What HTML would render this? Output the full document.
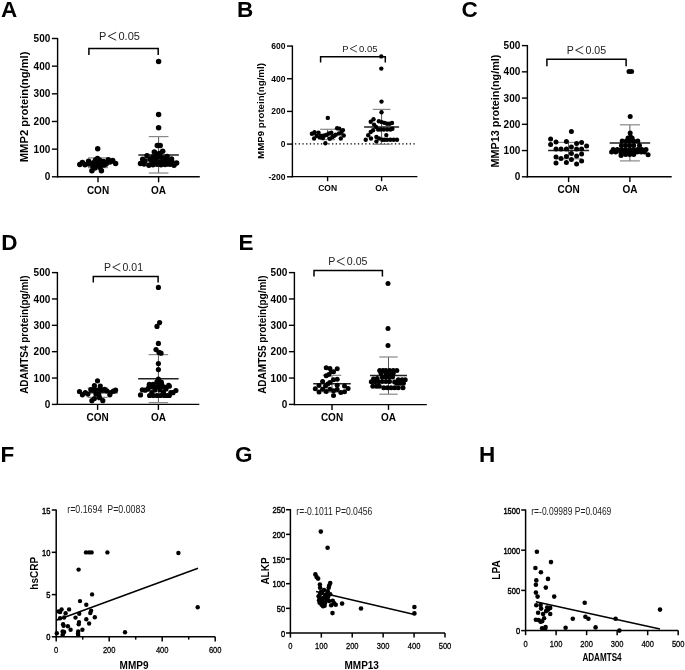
<!DOCTYPE html>
<html><head><meta charset="utf-8"><style>
html,body{margin:0;padding:0;background:#fff;}
svg{display:block;font-family:"Liberation Sans", sans-serif;will-change:transform;}
</style></head><body>
<svg width="685" height="670" viewBox="0 0 685 670">
<rect width="685" height="670" fill="#fff"/>
<line x1="57.60" y1="37.90" x2="57.60" y2="177.40" stroke="#000" stroke-width="1.4" />
<line x1="51.90" y1="176.80" x2="57.60" y2="176.80" stroke="#000" stroke-width="1.4" />
<text x="50.30" y="180.40" font-size="10" font-weight="bold" text-anchor="end" fill="#000" >0</text>
<line x1="51.90" y1="149.14" x2="57.60" y2="149.14" stroke="#000" stroke-width="1.4" />
<text x="50.30" y="152.74" font-size="10" font-weight="bold" text-anchor="end" fill="#000" >100</text>
<line x1="51.90" y1="121.48" x2="57.60" y2="121.48" stroke="#000" stroke-width="1.4" />
<text x="50.30" y="125.08" font-size="10" font-weight="bold" text-anchor="end" fill="#000" >200</text>
<line x1="51.90" y1="93.82" x2="57.60" y2="93.82" stroke="#000" stroke-width="1.4" />
<text x="50.30" y="97.42" font-size="10" font-weight="bold" text-anchor="end" fill="#000" >300</text>
<line x1="51.90" y1="66.16" x2="57.60" y2="66.16" stroke="#000" stroke-width="1.4" />
<text x="50.30" y="69.76" font-size="10" font-weight="bold" text-anchor="end" fill="#000" >400</text>
<line x1="51.90" y1="38.50" x2="57.60" y2="38.50" stroke="#000" stroke-width="1.4" />
<text x="50.30" y="42.10" font-size="10" font-weight="bold" text-anchor="end" fill="#000" >500</text>
<line x1="57.00" y1="176.80" x2="199.80" y2="176.80" stroke="#000" stroke-width="1.4" />
<line x1="98.00" y1="176.80" x2="98.00" y2="182.30" stroke="#000" stroke-width="1.4" />
<text x="98.00" y="193.60" font-size="10" font-weight="bold" text-anchor="middle" fill="#000" >CON</text>
<line x1="158.60" y1="176.80" x2="158.60" y2="182.30" stroke="#000" stroke-width="1.4" />
<text x="158.60" y="193.60" font-size="10" font-weight="bold" text-anchor="middle" fill="#000" >OA</text>
<text transform="translate(27.80,106.90) rotate(-90)" font-size="11.2" font-weight="bold" text-anchor="middle" fill="#000" >MMP2 protein(ng/ml)</text>
<text transform="translate(1.00,16.90) " font-size="22.5" font-weight="bold">A</text>
<polyline points="88.9,55.1 88.9,48.4 158.2,48.4 158.2,55.1" fill="none" stroke="#000" stroke-width="1.5"/>
<text x="99.12" y="40.00" font-size="11" font-weight="normal" text-anchor="start" fill="#222" >P</text>
<polyline points="116.17,32.30 108.25,36.26 116.17,40.22" fill="none" stroke="#222" stroke-width="0.99"/>
<text x="118.48" y="40.00" font-size="11" font-weight="normal" text-anchor="start" fill="#222" >0.05</text>
<line x1="98.00" y1="157.90" x2="98.00" y2="167.60" stroke="#555" stroke-width="1" />
<line x1="88.00" y1="157.90" x2="108.00" y2="157.90" stroke="#888" stroke-width="1.2" />
<line x1="88.00" y1="167.60" x2="108.00" y2="167.60" stroke="#888" stroke-width="1.2" />
<line x1="158.60" y1="136.60" x2="158.60" y2="173.00" stroke="#555" stroke-width="1" />
<line x1="148.75" y1="136.60" x2="168.45" y2="136.60" stroke="#888" stroke-width="1.2" />
<line x1="148.75" y1="173.00" x2="168.45" y2="173.00" stroke="#888" stroke-width="1.2" />
<line x1="78.00" y1="163.00" x2="118.00" y2="163.00" stroke="#222" stroke-width="1.5" />
<line x1="138.35" y1="155.00" x2="178.85" y2="155.00" stroke="#222" stroke-width="1.5" />
<circle cx="97.70" cy="148.80" r="2.75"/>
<circle cx="91.90" cy="170.70" r="2.75"/>
<circle cx="101.40" cy="170.70" r="2.75"/>
<circle cx="79.80" cy="164.50" r="2.75"/>
<circle cx="82.40" cy="162.60" r="2.75"/>
<circle cx="85.00" cy="164.80" r="2.75"/>
<circle cx="88.60" cy="161.20" r="2.75"/>
<circle cx="91.00" cy="163.50" r="2.75"/>
<circle cx="93.00" cy="166.50" r="2.75"/>
<circle cx="95.50" cy="160.00" r="2.75"/>
<circle cx="97.50" cy="158.50" r="2.75"/>
<circle cx="99.50" cy="160.00" r="2.75"/>
<circle cx="96.00" cy="163.50" r="2.75"/>
<circle cx="98.50" cy="165.50" r="2.75"/>
<circle cx="100.00" cy="167.50" r="2.75"/>
<circle cx="95.00" cy="168.00" r="2.75"/>
<circle cx="102.00" cy="162.00" r="2.75"/>
<circle cx="104.00" cy="165.00" r="2.75"/>
<circle cx="106.10" cy="164.00" r="2.75"/>
<circle cx="108.30" cy="159.70" r="2.75"/>
<circle cx="110.00" cy="162.00" r="2.75"/>
<circle cx="112.70" cy="160.40" r="2.75"/>
<circle cx="115.60" cy="163.40" r="2.75"/>
<circle cx="94.00" cy="162.50" r="2.75"/>
<circle cx="101.00" cy="163.00" r="2.75"/>
<circle cx="103.50" cy="161.50" r="2.75"/>
<circle cx="89.00" cy="164.00" r="2.75"/>
<circle cx="158.60" cy="61.40" r="2.75"/>
<circle cx="158.60" cy="114.40" r="2.75"/>
<circle cx="158.60" cy="127.80" r="2.75"/>
<circle cx="157.30" cy="145.50" r="2.75"/>
<circle cx="160.20" cy="145.50" r="2.75"/>
<circle cx="154.30" cy="152.00" r="2.75"/>
<circle cx="162.70" cy="151.30" r="2.75"/>
<circle cx="147.00" cy="155.70" r="2.75"/>
<circle cx="156.90" cy="153.90" r="2.75"/>
<circle cx="159.80" cy="153.50" r="2.75"/>
<circle cx="167.10" cy="156.40" r="2.75"/>
<circle cx="142.70" cy="159.30" r="2.75"/>
<circle cx="140.50" cy="163.40" r="2.75"/>
<circle cx="148.90" cy="165.20" r="2.75"/>
<circle cx="174.00" cy="165.20" r="2.75"/>
<circle cx="176.60" cy="163.00" r="2.75"/>
<circle cx="171.50" cy="159.00" r="2.75"/>
<circle cx="145.00" cy="161.00" r="2.75"/>
<circle cx="150.00" cy="159.00" r="2.75"/>
<circle cx="153.00" cy="157.00" r="2.75"/>
<circle cx="156.00" cy="158.00" r="2.75"/>
<circle cx="160.00" cy="157.00" r="2.75"/>
<circle cx="163.00" cy="158.00" r="2.75"/>
<circle cx="166.00" cy="160.00" r="2.75"/>
<circle cx="169.00" cy="161.00" r="2.75"/>
<circle cx="152.00" cy="163.00" r="2.75"/>
<circle cx="155.00" cy="162.00" r="2.75"/>
<circle cx="158.00" cy="162.00" r="2.75"/>
<circle cx="161.00" cy="162.00" r="2.75"/>
<circle cx="164.00" cy="163.00" r="2.75"/>
<circle cx="167.00" cy="164.00" r="2.75"/>
<circle cx="144.00" cy="164.00" r="2.75"/>
<circle cx="153.00" cy="164.80" r="2.75"/>
<circle cx="157.00" cy="164.30" r="2.75"/>
<circle cx="161.00" cy="164.80" r="2.75"/>
<circle cx="165.00" cy="164.60" r="2.75"/>
<circle cx="170.00" cy="164.20" r="2.75"/>
<circle cx="151.00" cy="160.00" r="2.75"/>
<circle cx="172.00" cy="162.00" r="2.75"/>
<line x1="292.40" y1="45.50" x2="292.40" y2="177.40" stroke="#000" stroke-width="1.4" />
<line x1="287.00" y1="46.06" x2="292.40" y2="46.06" stroke="#000" stroke-width="1.4" />
<text x="285.40" y="49.12" font-size="8.5" font-weight="bold" text-anchor="end" fill="#000" >600</text>
<line x1="287.00" y1="78.74" x2="292.40" y2="78.74" stroke="#000" stroke-width="1.4" />
<text x="285.40" y="81.80" font-size="8.5" font-weight="bold" text-anchor="end" fill="#000" >400</text>
<line x1="287.00" y1="111.42" x2="292.40" y2="111.42" stroke="#000" stroke-width="1.4" />
<text x="285.40" y="114.48" font-size="8.5" font-weight="bold" text-anchor="end" fill="#000" >200</text>
<line x1="287.00" y1="144.10" x2="292.40" y2="144.10" stroke="#000" stroke-width="1.4" />
<text x="285.40" y="147.16" font-size="8.5" font-weight="bold" text-anchor="end" fill="#000" >0</text>
<line x1="287.00" y1="176.78" x2="292.40" y2="176.78" stroke="#000" stroke-width="1.4" />
<text x="285.40" y="179.84" font-size="8.5" font-weight="bold" text-anchor="end" fill="#000" >-200</text>
<line x1="291.80" y1="176.60" x2="417.40" y2="176.60" stroke="#000" stroke-width="1.4" />
<line x1="327.60" y1="176.60" x2="327.60" y2="181.20" stroke="#000" stroke-width="1.4" />
<text x="327.60" y="191.40" font-size="8.5" font-weight="bold" text-anchor="middle" fill="#000" >CON</text>
<line x1="381.60" y1="176.60" x2="381.60" y2="181.20" stroke="#000" stroke-width="1.4" />
<text x="381.60" y="191.40" font-size="8.5" font-weight="bold" text-anchor="middle" fill="#000" >OA</text>
<text transform="translate(264.00,111.00) rotate(-90)" font-size="9.7" font-weight="bold" text-anchor="middle" fill="#000" >MMP9 protein(ng/ml)</text>
<text transform="translate(237.00,17.00) " font-size="22.5" font-weight="bold">B</text>
<polyline points="320.6,62.4 320.6,56.8 385.3,56.8 385.3,62.4" fill="none" stroke="#000" stroke-width="1.5"/>
<text x="342.24" y="51.90" font-size="9.5" font-weight="normal" text-anchor="start" fill="#222" >P</text>
<polyline points="356.96,45.25 350.12,48.67 356.96,52.09" fill="none" stroke="#222" stroke-width="0.85"/>
<text x="358.96" y="51.90" font-size="9.5" font-weight="normal" text-anchor="start" fill="#222" >0.05</text>
<line x1="295.0" y1="143.9" x2="416" y2="143.9" stroke="#000" stroke-width="1.2" stroke-dasharray="1.3,2.4"/>
<line x1="327.60" y1="129.30" x2="327.60" y2="139.60" stroke="#555" stroke-width="1" />
<line x1="320.10" y1="129.30" x2="335.10" y2="129.30" stroke="#888" stroke-width="1.2" />
<line x1="320.10" y1="139.60" x2="335.10" y2="139.60" stroke="#888" stroke-width="1.2" />
<line x1="381.60" y1="109.40" x2="381.60" y2="144.30" stroke="#555" stroke-width="1" />
<line x1="372.75" y1="109.40" x2="390.45" y2="109.40" stroke="#888" stroke-width="1.2" />
<line x1="372.75" y1="144.30" x2="390.45" y2="144.30" stroke="#888" stroke-width="1.2" />
<line x1="312.60" y1="134.50" x2="342.60" y2="134.50" stroke="#222" stroke-width="1.5" />
<line x1="364.10" y1="126.90" x2="399.10" y2="126.90" stroke="#222" stroke-width="1.5" />
<circle cx="327.80" cy="117.90" r="2.2"/>
<circle cx="325.40" cy="143.20" r="2.2"/>
<circle cx="311.90" cy="133.70" r="2.2"/>
<circle cx="314.50" cy="132.30" r="2.2"/>
<circle cx="314.10" cy="138.50" r="2.2"/>
<circle cx="318.50" cy="132.60" r="2.2"/>
<circle cx="316.70" cy="135.90" r="2.2"/>
<circle cx="319.60" cy="137.40" r="2.2"/>
<circle cx="322.90" cy="138.10" r="2.2"/>
<circle cx="324.70" cy="135.50" r="2.2"/>
<circle cx="326.90" cy="134.80" r="2.2"/>
<circle cx="329.10" cy="133.40" r="2.2"/>
<circle cx="331.30" cy="132.60" r="2.2"/>
<circle cx="329.80" cy="138.80" r="2.2"/>
<circle cx="332.40" cy="137.00" r="2.2"/>
<circle cx="335.70" cy="134.80" r="2.2"/>
<circle cx="337.10" cy="128.20" r="2.2"/>
<circle cx="339.30" cy="128.60" r="2.2"/>
<circle cx="338.90" cy="133.40" r="2.2"/>
<circle cx="343.00" cy="130.10" r="2.2"/>
<circle cx="343.70" cy="135.50" r="2.2"/>
<circle cx="340.80" cy="138.50" r="2.2"/>
<circle cx="341.50" cy="131.90" r="2.2"/>
<circle cx="321.00" cy="136.00" r="2.2"/>
<circle cx="334.00" cy="136.00" r="2.2"/>
<circle cx="381.30" cy="56.40" r="2.2"/>
<circle cx="381.30" cy="68.60" r="2.2"/>
<circle cx="381.50" cy="101.60" r="2.2"/>
<circle cx="381.50" cy="112.20" r="2.2"/>
<circle cx="373.50" cy="119.20" r="2.2"/>
<circle cx="370.70" cy="121.70" r="2.2"/>
<circle cx="378.90" cy="121.30" r="2.2"/>
<circle cx="381.80" cy="122.10" r="2.2"/>
<circle cx="384.60" cy="122.90" r="2.2"/>
<circle cx="387.10" cy="123.70" r="2.2"/>
<circle cx="389.60" cy="123.70" r="2.2"/>
<circle cx="392.00" cy="122.90" r="2.2"/>
<circle cx="374.00" cy="124.60" r="2.2"/>
<circle cx="376.00" cy="127.00" r="2.2"/>
<circle cx="378.10" cy="129.50" r="2.2"/>
<circle cx="380.50" cy="129.50" r="2.2"/>
<circle cx="383.80" cy="129.50" r="2.2"/>
<circle cx="387.10" cy="129.50" r="2.2"/>
<circle cx="390.40" cy="129.50" r="2.2"/>
<circle cx="392.40" cy="128.70" r="2.2"/>
<circle cx="373.10" cy="130.30" r="2.2"/>
<circle cx="370.70" cy="132.00" r="2.2"/>
<circle cx="368.20" cy="135.20" r="2.2"/>
<circle cx="386.30" cy="135.10" r="2.2"/>
<circle cx="365.70" cy="139.70" r="2.2"/>
<circle cx="371.00" cy="138.50" r="2.2"/>
<circle cx="376.40" cy="136.90" r="2.2"/>
<circle cx="379.00" cy="138.50" r="2.2"/>
<circle cx="382.20" cy="139.70" r="2.2"/>
<circle cx="384.60" cy="139.70" r="2.2"/>
<circle cx="387.10" cy="139.70" r="2.2"/>
<circle cx="390.40" cy="139.70" r="2.2"/>
<circle cx="393.70" cy="139.70" r="2.2"/>
<circle cx="397.00" cy="139.70" r="2.2"/>
<circle cx="376.40" cy="141.40" r="2.2"/>
<line x1="527.40" y1="45.00" x2="527.40" y2="177.40" stroke="#000" stroke-width="1.4" />
<line x1="521.90" y1="176.80" x2="527.40" y2="176.80" stroke="#000" stroke-width="1.4" />
<text x="520.30" y="180.40" font-size="10" font-weight="bold" text-anchor="end" fill="#000" >0</text>
<line x1="521.90" y1="150.56" x2="527.40" y2="150.56" stroke="#000" stroke-width="1.4" />
<text x="520.30" y="154.16" font-size="10" font-weight="bold" text-anchor="end" fill="#000" >100</text>
<line x1="521.90" y1="124.32" x2="527.40" y2="124.32" stroke="#000" stroke-width="1.4" />
<text x="520.30" y="127.92" font-size="10" font-weight="bold" text-anchor="end" fill="#000" >200</text>
<line x1="521.90" y1="98.08" x2="527.40" y2="98.08" stroke="#000" stroke-width="1.4" />
<text x="520.30" y="101.68" font-size="10" font-weight="bold" text-anchor="end" fill="#000" >300</text>
<line x1="521.90" y1="71.84" x2="527.40" y2="71.84" stroke="#000" stroke-width="1.4" />
<text x="520.30" y="75.44" font-size="10" font-weight="bold" text-anchor="end" fill="#000" >400</text>
<line x1="521.90" y1="45.60" x2="527.40" y2="45.60" stroke="#000" stroke-width="1.4" />
<text x="520.30" y="49.20" font-size="10" font-weight="bold" text-anchor="end" fill="#000" >500</text>
<line x1="526.80" y1="176.80" x2="671.70" y2="176.80" stroke="#000" stroke-width="1.4" />
<line x1="568.60" y1="176.80" x2="568.60" y2="182.10" stroke="#000" stroke-width="1.4" />
<text x="568.60" y="193.00" font-size="10" font-weight="bold" text-anchor="middle" fill="#000" >CON</text>
<line x1="629.90" y1="176.80" x2="629.90" y2="182.10" stroke="#000" stroke-width="1.4" />
<text x="629.90" y="193.00" font-size="10" font-weight="bold" text-anchor="middle" fill="#000" >OA</text>
<text transform="translate(499.00,111.00) rotate(-90)" font-size="10.8" font-weight="bold" text-anchor="middle" fill="#000" >MMP13 protein(ng/ml)</text>
<text transform="translate(461.40,17.00) " font-size="22.5" font-weight="bold">C</text>
<polyline points="546.9,66.2 546.9,59.2 626.1,59.2 626.1,66.2" fill="none" stroke="#000" stroke-width="1.5"/>
<text x="566.85" y="53.80" font-size="10.6" font-weight="normal" text-anchor="start" fill="#222" >P</text>
<polyline points="583.28,46.38 575.65,50.20 583.28,54.01" fill="none" stroke="#222" stroke-width="0.95"/>
<text x="585.51" y="53.80" font-size="10.6" font-weight="normal" text-anchor="start" fill="#222" >0.05</text>
<line x1="568.60" y1="142.40" x2="568.60" y2="158.80" stroke="#555" stroke-width="1" />
<line x1="556.10" y1="142.40" x2="581.10" y2="142.40" stroke="#888" stroke-width="1.2" />
<line x1="556.10" y1="158.80" x2="581.10" y2="158.80" stroke="#888" stroke-width="1.2" />
<line x1="629.90" y1="124.80" x2="629.90" y2="160.90" stroke="#555" stroke-width="1" />
<line x1="619.90" y1="124.80" x2="639.90" y2="124.80" stroke="#888" stroke-width="1.2" />
<line x1="619.90" y1="160.90" x2="639.90" y2="160.90" stroke="#888" stroke-width="1.2" />
<line x1="548.10" y1="150.60" x2="589.10" y2="150.60" stroke="#222" stroke-width="1.5" />
<line x1="609.65" y1="143.00" x2="650.15" y2="143.00" stroke="#222" stroke-width="1.5" />
<circle cx="571.40" cy="131.40" r="2.5"/>
<circle cx="550.60" cy="139.00" r="2.5"/>
<circle cx="550.60" cy="144.40" r="2.5"/>
<circle cx="556.00" cy="142.00" r="2.5"/>
<circle cx="566.40" cy="141.60" r="2.5"/>
<circle cx="576.60" cy="143.60" r="2.5"/>
<circle cx="581.60" cy="142.40" r="2.5"/>
<circle cx="586.60" cy="146.00" r="2.5"/>
<circle cx="556.00" cy="149.00" r="2.5"/>
<circle cx="561.00" cy="149.00" r="2.5"/>
<circle cx="566.40" cy="149.00" r="2.5"/>
<circle cx="571.40" cy="147.00" r="2.5"/>
<circle cx="576.60" cy="149.00" r="2.5"/>
<circle cx="581.60" cy="149.00" r="2.5"/>
<circle cx="556.00" cy="157.00" r="2.5"/>
<circle cx="561.00" cy="158.40" r="2.5"/>
<circle cx="566.40" cy="156.40" r="2.5"/>
<circle cx="571.40" cy="153.60" r="2.5"/>
<circle cx="576.60" cy="156.00" r="2.5"/>
<circle cx="581.60" cy="154.00" r="2.5"/>
<circle cx="556.00" cy="163.00" r="2.5"/>
<circle cx="566.40" cy="162.40" r="2.5"/>
<circle cx="571.40" cy="159.40" r="2.5"/>
<circle cx="576.60" cy="164.00" r="2.5"/>
<circle cx="581.60" cy="161.00" r="2.5"/>
<circle cx="629.00" cy="71.40" r="2.5"/>
<circle cx="631.60" cy="71.40" r="2.5"/>
<circle cx="630.20" cy="116.60" r="2.5"/>
<circle cx="630.20" cy="133.00" r="2.5"/>
<circle cx="630.50" cy="137.10" r="2.5"/>
<circle cx="628.00" cy="137.90" r="2.5"/>
<circle cx="632.10" cy="137.90" r="2.5"/>
<circle cx="622.20" cy="141.00" r="2.5"/>
<circle cx="626.30" cy="141.00" r="2.5"/>
<circle cx="629.60" cy="141.00" r="2.5"/>
<circle cx="633.70" cy="141.00" r="2.5"/>
<circle cx="637.80" cy="141.00" r="2.5"/>
<circle cx="621.40" cy="145.50" r="2.5"/>
<circle cx="625.50" cy="145.50" r="2.5"/>
<circle cx="629.60" cy="145.50" r="2.5"/>
<circle cx="633.70" cy="145.50" r="2.5"/>
<circle cx="639.50" cy="145.50" r="2.5"/>
<circle cx="613.20" cy="149.50" r="2.5"/>
<circle cx="617.30" cy="149.50" r="2.5"/>
<circle cx="621.40" cy="149.50" r="2.5"/>
<circle cx="625.50" cy="149.50" r="2.5"/>
<circle cx="629.60" cy="149.50" r="2.5"/>
<circle cx="633.70" cy="149.50" r="2.5"/>
<circle cx="637.80" cy="149.50" r="2.5"/>
<circle cx="641.90" cy="149.50" r="2.5"/>
<circle cx="646.00" cy="149.50" r="2.5"/>
<circle cx="611.60" cy="152.00" r="2.5"/>
<circle cx="615.70" cy="152.00" r="2.5"/>
<circle cx="620.60" cy="152.00" r="2.5"/>
<circle cx="624.70" cy="152.00" r="2.5"/>
<circle cx="628.80" cy="152.00" r="2.5"/>
<circle cx="632.90" cy="152.00" r="2.5"/>
<circle cx="637.00" cy="152.00" r="2.5"/>
<circle cx="641.10" cy="152.00" r="2.5"/>
<circle cx="644.40" cy="152.00" r="2.5"/>
<circle cx="621.00" cy="155.60" r="2.5"/>
<circle cx="648.10" cy="154.70" r="2.5"/>
<circle cx="625.50" cy="154.50" r="2.5"/>
<circle cx="629.60" cy="154.50" r="2.5"/>
<circle cx="633.70" cy="154.50" r="2.5"/>
<line x1="57.40" y1="272.00" x2="57.40" y2="405.00" stroke="#000" stroke-width="1.4" />
<line x1="51.90" y1="404.40" x2="57.40" y2="404.40" stroke="#000" stroke-width="1.4" />
<text x="50.30" y="408.00" font-size="10" font-weight="bold" text-anchor="end" fill="#000" >0</text>
<line x1="51.90" y1="378.04" x2="57.40" y2="378.04" stroke="#000" stroke-width="1.4" />
<text x="50.30" y="381.64" font-size="10" font-weight="bold" text-anchor="end" fill="#000" >100</text>
<line x1="51.90" y1="351.68" x2="57.40" y2="351.68" stroke="#000" stroke-width="1.4" />
<text x="50.30" y="355.28" font-size="10" font-weight="bold" text-anchor="end" fill="#000" >200</text>
<line x1="51.90" y1="325.32" x2="57.40" y2="325.32" stroke="#000" stroke-width="1.4" />
<text x="50.30" y="328.92" font-size="10" font-weight="bold" text-anchor="end" fill="#000" >300</text>
<line x1="51.90" y1="298.96" x2="57.40" y2="298.96" stroke="#000" stroke-width="1.4" />
<text x="50.30" y="302.56" font-size="10" font-weight="bold" text-anchor="end" fill="#000" >400</text>
<line x1="51.90" y1="272.60" x2="57.40" y2="272.60" stroke="#000" stroke-width="1.4" />
<text x="50.30" y="276.20" font-size="10" font-weight="bold" text-anchor="end" fill="#000" >500</text>
<line x1="56.80" y1="404.40" x2="199.30" y2="404.40" stroke="#000" stroke-width="1.4" />
<line x1="97.60" y1="404.40" x2="97.60" y2="409.90" stroke="#000" stroke-width="1.4" />
<text x="97.60" y="421.00" font-size="10" font-weight="bold" text-anchor="middle" fill="#000" >CON</text>
<line x1="158.40" y1="404.40" x2="158.40" y2="409.90" stroke="#000" stroke-width="1.4" />
<text x="158.40" y="421.00" font-size="10" font-weight="bold" text-anchor="middle" fill="#000" >OA</text>
<text transform="translate(28.40,334.70) rotate(-90)" font-size="10" font-weight="bold" text-anchor="middle" fill="#000" >ADAMTS4 protein(pg/ml)</text>
<text transform="translate(1.30,249.80) " font-size="22.5" font-weight="bold">D</text>
<polyline points="93.3,282.4 93.3,276.4 158.1,276.4 158.1,282.4" fill="none" stroke="#000" stroke-width="1.5"/>
<text x="104.06" y="270.80" font-size="10.5" font-weight="normal" text-anchor="start" fill="#222" >P</text>
<polyline points="120.34,263.45 112.78,267.23 120.34,271.01" fill="none" stroke="#222" stroke-width="0.94"/>
<text x="122.54" y="270.80" font-size="10.5" font-weight="normal" text-anchor="start" fill="#222" >0.01</text>
<line x1="97.60" y1="388.10" x2="97.60" y2="397.40" stroke="#555" stroke-width="1" />
<line x1="87.60" y1="388.10" x2="107.60" y2="388.10" stroke="#888" stroke-width="1.2" />
<line x1="87.60" y1="397.40" x2="107.60" y2="397.40" stroke="#888" stroke-width="1.2" />
<line x1="158.40" y1="354.60" x2="158.40" y2="402.60" stroke="#555" stroke-width="1" />
<line x1="148.65" y1="354.60" x2="168.15" y2="354.60" stroke="#888" stroke-width="1.2" />
<line x1="148.65" y1="402.60" x2="168.15" y2="402.60" stroke="#888" stroke-width="1.2" />
<line x1="77.60" y1="392.70" x2="117.60" y2="392.70" stroke="#222" stroke-width="1.5" />
<line x1="138.15" y1="378.70" x2="178.65" y2="378.70" stroke="#222" stroke-width="1.5" />
<circle cx="97.50" cy="380.80" r="2.6"/>
<circle cx="79.50" cy="391.50" r="2.6"/>
<circle cx="82.40" cy="394.80" r="2.6"/>
<circle cx="85.30" cy="392.60" r="2.6"/>
<circle cx="87.90" cy="394.10" r="2.6"/>
<circle cx="90.80" cy="389.70" r="2.6"/>
<circle cx="94.40" cy="385.70" r="2.6"/>
<circle cx="100.30" cy="386.10" r="2.6"/>
<circle cx="93.00" cy="390.00" r="2.6"/>
<circle cx="95.90" cy="390.00" r="2.6"/>
<circle cx="98.80" cy="390.00" r="2.6"/>
<circle cx="101.70" cy="390.00" r="2.6"/>
<circle cx="104.70" cy="389.30" r="2.6"/>
<circle cx="106.80" cy="390.80" r="2.6"/>
<circle cx="109.80" cy="394.80" r="2.6"/>
<circle cx="110.50" cy="392.60" r="2.6"/>
<circle cx="113.40" cy="391.20" r="2.6"/>
<circle cx="115.60" cy="390.10" r="2.6"/>
<circle cx="95.90" cy="394.10" r="2.6"/>
<circle cx="98.80" cy="394.80" r="2.6"/>
<circle cx="91.90" cy="400.70" r="2.6"/>
<circle cx="102.80" cy="400.70" r="2.6"/>
<circle cx="94.40" cy="398.50" r="2.6"/>
<circle cx="99.50" cy="397.70" r="2.6"/>
<circle cx="97.00" cy="392.00" r="2.6"/>
<circle cx="158.40" cy="287.40" r="2.6"/>
<circle cx="159.60" cy="322.60" r="2.6"/>
<circle cx="157.00" cy="326.40" r="2.6"/>
<circle cx="158.40" cy="343.40" r="2.6"/>
<circle cx="156.00" cy="349.60" r="2.6"/>
<circle cx="159.00" cy="352.40" r="2.6"/>
<circle cx="161.00" cy="353.20" r="2.6"/>
<circle cx="158.40" cy="363.60" r="2.6"/>
<circle cx="158.40" cy="369.60" r="2.6"/>
<circle cx="158.40" cy="379.20" r="2.6"/>
<circle cx="156.90" cy="381.80" r="2.6"/>
<circle cx="161.30" cy="382.20" r="2.6"/>
<circle cx="149.30" cy="384.30" r="2.6"/>
<circle cx="153.00" cy="384.30" r="2.6"/>
<circle cx="158.10" cy="384.30" r="2.6"/>
<circle cx="161.70" cy="384.30" r="2.6"/>
<circle cx="168.60" cy="385.40" r="2.6"/>
<circle cx="169.30" cy="386.20" r="2.6"/>
<circle cx="148.90" cy="387.00" r="2.6"/>
<circle cx="152.50" cy="387.00" r="2.6"/>
<circle cx="156.20" cy="387.00" r="2.6"/>
<circle cx="160.50" cy="387.00" r="2.6"/>
<circle cx="164.20" cy="387.00" r="2.6"/>
<circle cx="142.30" cy="389.80" r="2.6"/>
<circle cx="145.20" cy="390.20" r="2.6"/>
<circle cx="148.10" cy="389.10" r="2.6"/>
<circle cx="175.90" cy="390.50" r="2.6"/>
<circle cx="173.00" cy="392.70" r="2.6"/>
<circle cx="170.80" cy="392.70" r="2.6"/>
<circle cx="140.50" cy="394.90" r="2.6"/>
<circle cx="149.60" cy="395.50" r="2.6"/>
<circle cx="153.20" cy="395.50" r="2.6"/>
<circle cx="156.90" cy="395.50" r="2.6"/>
<circle cx="160.50" cy="395.50" r="2.6"/>
<circle cx="164.20" cy="395.50" r="2.6"/>
<circle cx="167.10" cy="395.50" r="2.6"/>
<circle cx="169.30" cy="395.50" r="2.6"/>
<circle cx="151.80" cy="392.70" r="2.6"/>
<circle cx="163.50" cy="392.00" r="2.6"/>
<circle cx="155.00" cy="390.00" r="2.6"/>
<circle cx="160.00" cy="390.00" r="2.6"/>
<circle cx="166.00" cy="389.00" r="2.6"/>
<line x1="294.40" y1="272.00" x2="294.40" y2="405.20" stroke="#000" stroke-width="1.4" />
<line x1="288.90" y1="404.40" x2="294.40" y2="404.40" stroke="#000" stroke-width="1.4" />
<text x="287.30" y="408.00" font-size="10" font-weight="bold" text-anchor="end" fill="#000" >0</text>
<line x1="288.90" y1="378.04" x2="294.40" y2="378.04" stroke="#000" stroke-width="1.4" />
<text x="287.30" y="381.64" font-size="10" font-weight="bold" text-anchor="end" fill="#000" >100</text>
<line x1="288.90" y1="351.68" x2="294.40" y2="351.68" stroke="#000" stroke-width="1.4" />
<text x="287.30" y="355.28" font-size="10" font-weight="bold" text-anchor="end" fill="#000" >200</text>
<line x1="288.90" y1="325.32" x2="294.40" y2="325.32" stroke="#000" stroke-width="1.4" />
<text x="287.30" y="328.92" font-size="10" font-weight="bold" text-anchor="end" fill="#000" >300</text>
<line x1="288.90" y1="298.96" x2="294.40" y2="298.96" stroke="#000" stroke-width="1.4" />
<text x="287.30" y="302.56" font-size="10" font-weight="bold" text-anchor="end" fill="#000" >400</text>
<line x1="288.90" y1="272.60" x2="294.40" y2="272.60" stroke="#000" stroke-width="1.4" />
<text x="287.30" y="276.20" font-size="10" font-weight="bold" text-anchor="end" fill="#000" >500</text>
<line x1="293.80" y1="404.60" x2="426.80" y2="404.60" stroke="#000" stroke-width="1.4" />
<line x1="332.00" y1="404.60" x2="332.00" y2="409.90" stroke="#000" stroke-width="1.4" />
<text x="332.00" y="421.00" font-size="10" font-weight="bold" text-anchor="middle" fill="#000" >CON</text>
<line x1="388.50" y1="404.60" x2="388.50" y2="409.90" stroke="#000" stroke-width="1.4" />
<text x="388.50" y="421.00" font-size="10" font-weight="bold" text-anchor="middle" fill="#000" >OA</text>
<text transform="translate(266.10,334.70) rotate(-90)" font-size="10" font-weight="bold" text-anchor="middle" fill="#000" >ADAMTS5 protein(pg/ml)</text>
<text transform="translate(238.40,249.80) " font-size="22.5" font-weight="bold">E</text>
<polyline points="314.0,276.4 314.0,270.4 382.4,270.4 382.4,276.4" fill="none" stroke="#000" stroke-width="1.5"/>
<text x="328.15" y="265.00" font-size="10.6" font-weight="normal" text-anchor="start" fill="#222" >P</text>
<polyline points="344.58,257.58 336.95,261.40 344.58,265.21" fill="none" stroke="#222" stroke-width="0.95"/>
<text x="346.81" y="265.00" font-size="10.6" font-weight="normal" text-anchor="start" fill="#222" >0.05</text>
<line x1="332.00" y1="375.30" x2="332.00" y2="392.10" stroke="#555" stroke-width="1" />
<line x1="322.70" y1="375.30" x2="341.30" y2="375.30" stroke="#888" stroke-width="1.2" />
<line x1="322.70" y1="392.10" x2="341.30" y2="392.10" stroke="#888" stroke-width="1.2" />
<line x1="388.50" y1="357.00" x2="388.50" y2="394.20" stroke="#555" stroke-width="1" />
<line x1="379.35" y1="357.00" x2="397.65" y2="357.00" stroke="#888" stroke-width="1.2" />
<line x1="379.35" y1="394.20" x2="397.65" y2="394.20" stroke="#888" stroke-width="1.2" />
<line x1="313.20" y1="383.70" x2="350.80" y2="383.70" stroke="#222" stroke-width="1.5" />
<line x1="370.00" y1="375.40" x2="407.00" y2="375.40" stroke="#222" stroke-width="1.5" />
<circle cx="326.20" cy="367.70" r="2.5"/>
<circle cx="329.90" cy="368.40" r="2.5"/>
<circle cx="337.20" cy="368.80" r="2.5"/>
<circle cx="333.50" cy="371.70" r="2.5"/>
<circle cx="331.40" cy="371.70" r="2.5"/>
<circle cx="326.20" cy="375.70" r="2.5"/>
<circle cx="328.80" cy="374.60" r="2.5"/>
<circle cx="337.20" cy="379.30" r="2.5"/>
<circle cx="333.50" cy="379.70" r="2.5"/>
<circle cx="322.60" cy="381.50" r="2.5"/>
<circle cx="329.90" cy="382.60" r="2.5"/>
<circle cx="327.70" cy="384.10" r="2.5"/>
<circle cx="319.00" cy="385.50" r="2.5"/>
<circle cx="325.50" cy="385.90" r="2.5"/>
<circle cx="337.20" cy="385.20" r="2.5"/>
<circle cx="344.50" cy="385.90" r="2.5"/>
<circle cx="315.30" cy="388.80" r="2.5"/>
<circle cx="319.00" cy="392.10" r="2.5"/>
<circle cx="322.60" cy="389.20" r="2.5"/>
<circle cx="326.20" cy="391.40" r="2.5"/>
<circle cx="329.90" cy="389.20" r="2.5"/>
<circle cx="333.50" cy="390.70" r="2.5"/>
<circle cx="337.20" cy="389.60" r="2.5"/>
<circle cx="340.80" cy="392.50" r="2.5"/>
<circle cx="344.50" cy="391.80" r="2.5"/>
<circle cx="348.10" cy="388.50" r="2.5"/>
<circle cx="333.50" cy="395.40" r="2.5"/>
<circle cx="388.00" cy="283.60" r="2.5"/>
<circle cx="388.00" cy="328.60" r="2.5"/>
<circle cx="388.00" cy="345.40" r="2.5"/>
<circle cx="379.70" cy="370.50" r="2.5"/>
<circle cx="383.00" cy="370.50" r="2.5"/>
<circle cx="385.90" cy="370.50" r="2.5"/>
<circle cx="389.50" cy="370.50" r="2.5"/>
<circle cx="393.20" cy="370.50" r="2.5"/>
<circle cx="396.80" cy="370.50" r="2.5"/>
<circle cx="381.00" cy="373.30" r="2.5"/>
<circle cx="385.90" cy="373.30" r="2.5"/>
<circle cx="389.50" cy="373.30" r="2.5"/>
<circle cx="393.20" cy="373.30" r="2.5"/>
<circle cx="373.50" cy="379.10" r="2.5"/>
<circle cx="377.10" cy="378.40" r="2.5"/>
<circle cx="382.20" cy="377.00" r="2.5"/>
<circle cx="385.90" cy="377.00" r="2.5"/>
<circle cx="389.50" cy="377.00" r="2.5"/>
<circle cx="392.50" cy="377.00" r="2.5"/>
<circle cx="398.30" cy="379.80" r="2.5"/>
<circle cx="402.00" cy="379.80" r="2.5"/>
<circle cx="405.20" cy="379.80" r="2.5"/>
<circle cx="371.30" cy="381.80" r="2.5"/>
<circle cx="375.00" cy="381.80" r="2.5"/>
<circle cx="378.60" cy="381.80" r="2.5"/>
<circle cx="382.20" cy="381.50" r="2.5"/>
<circle cx="385.90" cy="381.50" r="2.5"/>
<circle cx="389.50" cy="381.50" r="2.5"/>
<circle cx="394.60" cy="382.00" r="2.5"/>
<circle cx="396.80" cy="383.30" r="2.5"/>
<circle cx="400.50" cy="383.30" r="2.5"/>
<circle cx="403.40" cy="383.30" r="2.5"/>
<circle cx="372.80" cy="386.30" r="2.5"/>
<circle cx="376.40" cy="386.30" r="2.5"/>
<circle cx="379.30" cy="386.30" r="2.5"/>
<circle cx="383.70" cy="387.70" r="2.5"/>
<circle cx="387.40" cy="387.70" r="2.5"/>
<circle cx="391.00" cy="387.70" r="2.5"/>
<circle cx="394.60" cy="387.70" r="2.5"/>
<circle cx="398.30" cy="387.70" r="2.5"/>
<circle cx="403.00" cy="387.70" r="2.5"/>
<line x1="56.20" y1="509.40" x2="56.20" y2="637.40" stroke="#000" stroke-width="1.5" />
<line x1="51.80" y1="636.80" x2="56.20" y2="636.80" stroke="#000" stroke-width="1.5" />
<text x="50.40" y="640.30" font-size="9.8" font-weight="normal" text-anchor="end" fill="#000" textLength="4.20" lengthAdjust="spacingAndGlyphs" stroke="#000" stroke-width="0.45">0</text>
<line x1="51.80" y1="594.60" x2="56.20" y2="594.60" stroke="#000" stroke-width="1.5" />
<text x="50.40" y="598.10" font-size="9.8" font-weight="normal" text-anchor="end" fill="#000" textLength="4.20" lengthAdjust="spacingAndGlyphs" stroke="#000" stroke-width="0.45">5</text>
<line x1="51.80" y1="552.30" x2="56.20" y2="552.30" stroke="#000" stroke-width="1.5" />
<text x="50.40" y="555.80" font-size="9.8" font-weight="normal" text-anchor="end" fill="#000" textLength="8.40" lengthAdjust="spacingAndGlyphs" stroke="#000" stroke-width="0.45">10</text>
<line x1="51.80" y1="510.00" x2="56.20" y2="510.00" stroke="#000" stroke-width="1.5" />
<text x="50.40" y="513.50" font-size="9.8" font-weight="normal" text-anchor="end" fill="#000" textLength="8.40" lengthAdjust="spacingAndGlyphs" stroke="#000" stroke-width="0.45">15</text>
<line x1="55.60" y1="636.80" x2="215.20" y2="636.80" stroke="#000" stroke-width="1.5" />
<line x1="56.20" y1="636.80" x2="56.20" y2="641.40" stroke="#000" stroke-width="1.5" />
<text x="56.20" y="653.00" font-size="9.8" font-weight="normal" text-anchor="middle" fill="#000" textLength="4.20" lengthAdjust="spacingAndGlyphs" stroke="#000" stroke-width="0.3">0</text>
<line x1="82.70" y1="636.80" x2="82.70" y2="639.60" stroke="#000" stroke-width="1.5" />
<line x1="109.20" y1="636.80" x2="109.20" y2="641.40" stroke="#000" stroke-width="1.5" />
<text x="109.20" y="653.00" font-size="9.8" font-weight="normal" text-anchor="middle" fill="#000" textLength="12.60" lengthAdjust="spacingAndGlyphs" stroke="#000" stroke-width="0.3">200</text>
<line x1="135.70" y1="636.80" x2="135.70" y2="639.60" stroke="#000" stroke-width="1.5" />
<line x1="162.20" y1="636.80" x2="162.20" y2="641.40" stroke="#000" stroke-width="1.5" />
<text x="162.20" y="653.00" font-size="9.8" font-weight="normal" text-anchor="middle" fill="#000" textLength="12.60" lengthAdjust="spacingAndGlyphs" stroke="#000" stroke-width="0.3">400</text>
<line x1="188.70" y1="636.80" x2="188.70" y2="639.60" stroke="#000" stroke-width="1.5" />
<line x1="215.20" y1="636.80" x2="215.20" y2="641.40" stroke="#000" stroke-width="1.5" />
<text x="215.20" y="653.00" font-size="9.8" font-weight="normal" text-anchor="middle" fill="#000" textLength="12.60" lengthAdjust="spacingAndGlyphs" stroke="#000" stroke-width="0.3">600</text>
<text transform="translate(37.60,573.30) rotate(-90)" font-size="10" font-weight="bold" text-anchor="middle" fill="#000" >hsCRP</text>
<text x="134.00" y="668.80" font-size="10" font-weight="bold" text-anchor="middle" fill="#000" >MMP9</text>
<text transform="translate(0.60,462.20) " font-size="22.5" font-weight="bold">F</text>
<text x="67.20" y="513.00" font-size="10.5" font-weight="normal" text-anchor="start" fill="#222" textLength="78.20" lengthAdjust="spacingAndGlyphs" xml:space="preserve">r=0.1694  P=0.0083</text>
<line x1="56.50" y1="620.30" x2="198.00" y2="568.20" stroke="#000" stroke-width="1.5" />
<circle cx="86.00" cy="552.40" r="2.2"/>
<circle cx="89.00" cy="552.40" r="2.2"/>
<circle cx="91.60" cy="552.40" r="2.2"/>
<circle cx="107.40" cy="552.40" r="2.2"/>
<circle cx="178.40" cy="553.00" r="2.2"/>
<circle cx="78.60" cy="569.60" r="2.2"/>
<circle cx="92.10" cy="594.40" r="2.2"/>
<circle cx="80.00" cy="601.10" r="2.2"/>
<circle cx="86.30" cy="604.70" r="2.2"/>
<circle cx="61.60" cy="609.40" r="2.2"/>
<circle cx="69.10" cy="609.40" r="2.2"/>
<circle cx="58.60" cy="611.40" r="2.2"/>
<circle cx="60.10" cy="612.00" r="2.2"/>
<circle cx="91.10" cy="610.70" r="2.2"/>
<circle cx="90.30" cy="613.00" r="2.2"/>
<circle cx="65.60" cy="613.20" r="2.2"/>
<circle cx="79.20" cy="613.70" r="2.2"/>
<circle cx="60.10" cy="618.30" r="2.2"/>
<circle cx="64.10" cy="617.50" r="2.2"/>
<circle cx="75.50" cy="617.60" r="2.2"/>
<circle cx="94.80" cy="617.30" r="2.2"/>
<circle cx="86.30" cy="619.30" r="2.2"/>
<circle cx="89.10" cy="623.50" r="2.2"/>
<circle cx="79.00" cy="622.10" r="2.2"/>
<circle cx="78.70" cy="624.30" r="2.2"/>
<circle cx="63.10" cy="624.30" r="2.2"/>
<circle cx="63.60" cy="625.80" r="2.2"/>
<circle cx="67.90" cy="626.30" r="2.2"/>
<circle cx="70.60" cy="629.80" r="2.2"/>
<circle cx="82.40" cy="629.80" r="2.2"/>
<circle cx="62.60" cy="631.40" r="2.2"/>
<circle cx="64.10" cy="631.90" r="2.2"/>
<circle cx="63.10" cy="633.40" r="2.2"/>
<circle cx="78.20" cy="631.40" r="2.2"/>
<circle cx="78.00" cy="633.40" r="2.2"/>
<circle cx="56.80" cy="633.20" r="2.2"/>
<circle cx="62.60" cy="634.90" r="2.2"/>
<circle cx="78.20" cy="634.90" r="2.2"/>
<circle cx="125.00" cy="632.20" r="2.2"/>
<circle cx="197.70" cy="607.30" r="2.2"/>
<line x1="290.40" y1="509.10" x2="290.40" y2="633.60" stroke="#000" stroke-width="1.5" />
<line x1="286.00" y1="633.00" x2="290.40" y2="633.00" stroke="#000" stroke-width="1.5" />
<text x="285.20" y="636.50" font-size="9.8" font-weight="normal" text-anchor="end" fill="#000" textLength="4.20" lengthAdjust="spacingAndGlyphs" stroke="#000" stroke-width="0.45">0</text>
<line x1="286.00" y1="608.34" x2="290.40" y2="608.34" stroke="#000" stroke-width="1.5" />
<text x="285.20" y="611.84" font-size="9.8" font-weight="normal" text-anchor="end" fill="#000" textLength="8.40" lengthAdjust="spacingAndGlyphs" stroke="#000" stroke-width="0.45">50</text>
<line x1="286.00" y1="583.68" x2="290.40" y2="583.68" stroke="#000" stroke-width="1.5" />
<text x="285.20" y="587.18" font-size="9.8" font-weight="normal" text-anchor="end" fill="#000" textLength="12.60" lengthAdjust="spacingAndGlyphs" stroke="#000" stroke-width="0.45">100</text>
<line x1="286.00" y1="559.02" x2="290.40" y2="559.02" stroke="#000" stroke-width="1.5" />
<text x="285.20" y="562.52" font-size="9.8" font-weight="normal" text-anchor="end" fill="#000" textLength="12.60" lengthAdjust="spacingAndGlyphs" stroke="#000" stroke-width="0.45">150</text>
<line x1="286.00" y1="534.36" x2="290.40" y2="534.36" stroke="#000" stroke-width="1.5" />
<text x="285.20" y="537.86" font-size="9.8" font-weight="normal" text-anchor="end" fill="#000" textLength="12.60" lengthAdjust="spacingAndGlyphs" stroke="#000" stroke-width="0.45">200</text>
<line x1="286.00" y1="509.70" x2="290.40" y2="509.70" stroke="#000" stroke-width="1.5" />
<text x="285.20" y="513.20" font-size="9.8" font-weight="normal" text-anchor="end" fill="#000" textLength="12.60" lengthAdjust="spacingAndGlyphs" stroke="#000" stroke-width="0.45">250</text>
<line x1="289.80" y1="633.00" x2="445.00" y2="633.00" stroke="#000" stroke-width="1.5" />
<line x1="290.40" y1="633.00" x2="290.40" y2="637.60" stroke="#000" stroke-width="1.5" />
<text x="290.40" y="649.00" font-size="9.8" font-weight="normal" text-anchor="middle" fill="#000" textLength="4.20" lengthAdjust="spacingAndGlyphs" stroke="#000" stroke-width="0.3">0</text>
<line x1="321.32" y1="633.00" x2="321.32" y2="637.60" stroke="#000" stroke-width="1.5" />
<text x="321.32" y="649.00" font-size="9.8" font-weight="normal" text-anchor="middle" fill="#000" textLength="12.60" lengthAdjust="spacingAndGlyphs" stroke="#000" stroke-width="0.3">100</text>
<line x1="352.24" y1="633.00" x2="352.24" y2="637.60" stroke="#000" stroke-width="1.5" />
<text x="352.24" y="649.00" font-size="9.8" font-weight="normal" text-anchor="middle" fill="#000" textLength="12.60" lengthAdjust="spacingAndGlyphs" stroke="#000" stroke-width="0.3">200</text>
<line x1="383.16" y1="633.00" x2="383.16" y2="637.60" stroke="#000" stroke-width="1.5" />
<text x="383.16" y="649.00" font-size="9.8" font-weight="normal" text-anchor="middle" fill="#000" textLength="12.60" lengthAdjust="spacingAndGlyphs" stroke="#000" stroke-width="0.3">300</text>
<line x1="414.08" y1="633.00" x2="414.08" y2="637.60" stroke="#000" stroke-width="1.5" />
<text x="414.08" y="649.00" font-size="9.8" font-weight="normal" text-anchor="middle" fill="#000" textLength="12.60" lengthAdjust="spacingAndGlyphs" stroke="#000" stroke-width="0.3">400</text>
<line x1="445.00" y1="633.00" x2="445.00" y2="637.60" stroke="#000" stroke-width="1.5" />
<text x="445.00" y="649.00" font-size="9.8" font-weight="normal" text-anchor="middle" fill="#000" textLength="12.60" lengthAdjust="spacingAndGlyphs" stroke="#000" stroke-width="0.3">500</text>
<text transform="translate(268.60,571.00) rotate(-90)" font-size="10" font-weight="bold" text-anchor="middle" fill="#000" >ALKP</text>
<text x="361.70" y="668.80" font-size="10" font-weight="bold" text-anchor="middle" fill="#000" >MMP13</text>
<text transform="translate(235.00,462.20) " font-size="22.5" font-weight="bold">G</text>
<text x="296.30" y="515.20" font-size="10.5" font-weight="normal" text-anchor="start" fill="#222" textLength="76.00" lengthAdjust="spacingAndGlyphs" xml:space="preserve">r=-0.1011 P=0.0456</text>
<line x1="316.00" y1="591.50" x2="414.40" y2="614.40" stroke="#000" stroke-width="1.5" />
<circle cx="320.80" cy="531.60" r="2.3"/>
<circle cx="327.60" cy="547.80" r="2.3"/>
<circle cx="315.40" cy="574.40" r="2.3"/>
<circle cx="316.60" cy="577.10" r="2.3"/>
<circle cx="318.10" cy="578.60" r="2.3"/>
<circle cx="319.90" cy="584.60" r="2.3"/>
<circle cx="320.10" cy="587.70" r="2.3"/>
<circle cx="330.20" cy="583.10" r="2.3"/>
<circle cx="329.20" cy="585.60" r="2.3"/>
<circle cx="328.70" cy="587.70" r="2.3"/>
<circle cx="321.10" cy="591.70" r="2.3"/>
<circle cx="327.70" cy="591.20" r="2.3"/>
<circle cx="330.20" cy="594.20" r="2.3"/>
<circle cx="318.60" cy="596.20" r="2.3"/>
<circle cx="319.60" cy="597.70" r="2.3"/>
<circle cx="325.10" cy="595.70" r="2.3"/>
<circle cx="326.10" cy="598.20" r="2.3"/>
<circle cx="319.10" cy="600.20" r="2.3"/>
<circle cx="326.10" cy="599.70" r="2.3"/>
<circle cx="319.60" cy="602.80" r="2.3"/>
<circle cx="321.60" cy="604.80" r="2.3"/>
<circle cx="323.10" cy="606.30" r="2.3"/>
<circle cx="324.60" cy="605.80" r="2.3"/>
<circle cx="332.70" cy="600.80" r="2.3"/>
<circle cx="331.20" cy="605.30" r="2.3"/>
<circle cx="334.20" cy="603.30" r="2.3"/>
<circle cx="335.70" cy="604.80" r="2.3"/>
<circle cx="342.10" cy="603.60" r="2.3"/>
<circle cx="332.50" cy="613.10" r="2.3"/>
<circle cx="361.00" cy="608.50" r="2.3"/>
<circle cx="322.00" cy="593.00" r="2.3"/>
<circle cx="324.00" cy="590.00" r="2.3"/>
<circle cx="327.00" cy="594.00" r="2.3"/>
<circle cx="323.00" cy="598.00" r="2.3"/>
<circle cx="328.00" cy="597.00" r="2.3"/>
<circle cx="322.00" cy="601.00" r="2.3"/>
<circle cx="325.00" cy="603.00" r="2.3"/>
<circle cx="329.00" cy="601.00" r="2.3"/>
<circle cx="320.00" cy="594.00" r="2.3"/>
<circle cx="414.40" cy="607.00" r="2.3"/>
<circle cx="414.40" cy="613.40" r="2.3"/>
<line x1="525.60" y1="509.40" x2="525.60" y2="631.20" stroke="#000" stroke-width="1.5" />
<line x1="521.20" y1="630.60" x2="525.60" y2="630.60" stroke="#000" stroke-width="1.5" />
<text x="520.20" y="634.10" font-size="9.8" font-weight="normal" text-anchor="end" fill="#000" textLength="4.20" lengthAdjust="spacingAndGlyphs" stroke="#000" stroke-width="0.45">0</text>
<line x1="521.20" y1="590.40" x2="525.60" y2="590.40" stroke="#000" stroke-width="1.5" />
<text x="520.20" y="593.90" font-size="9.8" font-weight="normal" text-anchor="end" fill="#000" textLength="12.60" lengthAdjust="spacingAndGlyphs" stroke="#000" stroke-width="0.45">500</text>
<line x1="521.20" y1="550.20" x2="525.60" y2="550.20" stroke="#000" stroke-width="1.5" />
<text x="520.20" y="553.70" font-size="9.8" font-weight="normal" text-anchor="end" fill="#000" textLength="16.80" lengthAdjust="spacingAndGlyphs" stroke="#000" stroke-width="0.45">1000</text>
<line x1="521.20" y1="510.00" x2="525.60" y2="510.00" stroke="#000" stroke-width="1.5" />
<text x="520.20" y="513.50" font-size="9.8" font-weight="normal" text-anchor="end" fill="#000" textLength="16.80" lengthAdjust="spacingAndGlyphs" stroke="#000" stroke-width="0.45">1500</text>
<line x1="525.00" y1="630.60" x2="678.20" y2="630.60" stroke="#000" stroke-width="1.5" />
<line x1="525.60" y1="630.60" x2="525.60" y2="635.20" stroke="#000" stroke-width="1.5" />
<text x="525.60" y="647.00" font-size="9.8" font-weight="normal" text-anchor="middle" fill="#000" textLength="4.20" lengthAdjust="spacingAndGlyphs" stroke="#000" stroke-width="0.3">0</text>
<line x1="556.12" y1="630.60" x2="556.12" y2="635.20" stroke="#000" stroke-width="1.5" />
<text x="556.12" y="647.00" font-size="9.8" font-weight="normal" text-anchor="middle" fill="#000" textLength="12.60" lengthAdjust="spacingAndGlyphs" stroke="#000" stroke-width="0.3">100</text>
<line x1="586.64" y1="630.60" x2="586.64" y2="635.20" stroke="#000" stroke-width="1.5" />
<text x="586.64" y="647.00" font-size="9.8" font-weight="normal" text-anchor="middle" fill="#000" textLength="12.60" lengthAdjust="spacingAndGlyphs" stroke="#000" stroke-width="0.3">200</text>
<line x1="617.16" y1="630.60" x2="617.16" y2="635.20" stroke="#000" stroke-width="1.5" />
<text x="617.16" y="647.00" font-size="9.8" font-weight="normal" text-anchor="middle" fill="#000" textLength="12.60" lengthAdjust="spacingAndGlyphs" stroke="#000" stroke-width="0.3">300</text>
<line x1="647.68" y1="630.60" x2="647.68" y2="635.20" stroke="#000" stroke-width="1.5" />
<text x="647.68" y="647.00" font-size="9.8" font-weight="normal" text-anchor="middle" fill="#000" textLength="12.60" lengthAdjust="spacingAndGlyphs" stroke="#000" stroke-width="0.3">400</text>
<line x1="678.20" y1="630.60" x2="678.20" y2="635.20" stroke="#000" stroke-width="1.5" />
<text x="678.20" y="647.00" font-size="9.8" font-weight="normal" text-anchor="middle" fill="#000" textLength="12.60" lengthAdjust="spacingAndGlyphs" stroke="#000" stroke-width="0.3">500</text>
<text transform="translate(500.00,570.00) rotate(-90)" font-size="10" font-weight="bold" text-anchor="middle" fill="#000" >LPA</text>
<text x="602.00" y="661.00" font-size="10" font-weight="bold" text-anchor="middle" fill="#000" textLength="39.20" lengthAdjust="spacingAndGlyphs" >ADAMTS4</text>
<text transform="translate(479.00,462.20) " font-size="22.5" font-weight="bold">H</text>
<text x="531.30" y="515.20" font-size="10.5" font-weight="normal" text-anchor="start" fill="#222" textLength="80.00" lengthAdjust="spacingAndGlyphs" xml:space="preserve">r=-0.09989 P=0.0469</text>
<line x1="535.90" y1="601.80" x2="660.00" y2="629.00" stroke="#000" stroke-width="1.5" />
<circle cx="536.90" cy="551.70" r="2.3"/>
<circle cx="551.00" cy="562.10" r="2.3"/>
<circle cx="535.40" cy="568.00" r="2.3"/>
<circle cx="540.90" cy="572.20" r="2.3"/>
<circle cx="548.00" cy="578.90" r="2.3"/>
<circle cx="536.30" cy="580.40" r="2.3"/>
<circle cx="535.90" cy="584.80" r="2.3"/>
<circle cx="545.80" cy="587.60" r="2.3"/>
<circle cx="535.90" cy="592.60" r="2.3"/>
<circle cx="537.60" cy="596.60" r="2.3"/>
<circle cx="554.20" cy="596.60" r="2.3"/>
<circle cx="584.70" cy="602.70" r="2.3"/>
<circle cx="536.30" cy="605.20" r="2.3"/>
<circle cx="540.60" cy="605.10" r="2.3"/>
<circle cx="541.10" cy="608.60" r="2.3"/>
<circle cx="547.20" cy="607.60" r="2.3"/>
<circle cx="550.20" cy="607.90" r="2.3"/>
<circle cx="548.20" cy="609.60" r="2.3"/>
<circle cx="546.10" cy="611.10" r="2.3"/>
<circle cx="538.10" cy="612.70" r="2.3"/>
<circle cx="543.10" cy="614.00" r="2.3"/>
<circle cx="550.20" cy="614.00" r="2.3"/>
<circle cx="544.10" cy="618.20" r="2.3"/>
<circle cx="535.90" cy="619.70" r="2.3"/>
<circle cx="538.60" cy="620.00" r="2.3"/>
<circle cx="540.60" cy="621.70" r="2.3"/>
<circle cx="542.10" cy="621.20" r="2.3"/>
<circle cx="572.80" cy="618.70" r="2.3"/>
<circle cx="585.40" cy="616.70" r="2.3"/>
<circle cx="588.40" cy="618.70" r="2.3"/>
<circle cx="542.10" cy="628.30" r="2.3"/>
<circle cx="545.60" cy="627.10" r="2.3"/>
<circle cx="545.10" cy="628.80" r="2.3"/>
<circle cx="565.60" cy="627.80" r="2.3"/>
<circle cx="595.60" cy="627.40" r="2.3"/>
<circle cx="615.60" cy="618.80" r="2.3"/>
<circle cx="619.40" cy="630.60" r="2.3"/>
<circle cx="660.00" cy="609.60" r="2.3"/>
</svg>
</body></html>
